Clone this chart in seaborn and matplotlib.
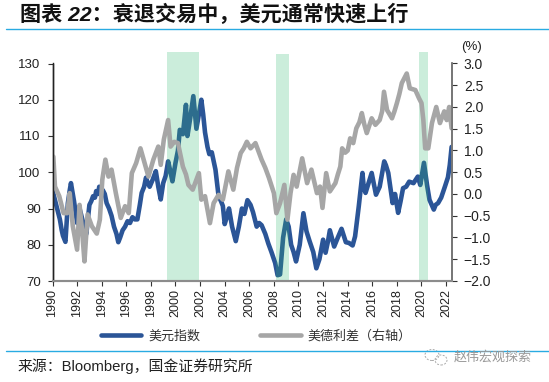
# 美元指数 vs 美德利差
import matplotlib
matplotlib.use('Agg')
import matplotlib.pyplot as plt
from matplotlib.patches import Ellipse
import pandas as pd
import seaborn as sns

# Dataset
dxy_years = [1990.0, 1990.15, 1990.3, 1990.45, 1990.6, 1990.75, 1990.85, 1991.05, 1991.15, 1991.25, 1991.4, 1991.5,
             1991.65, 1991.75, 1992.0, 1992.2, 1992.5, 1992.75, 1993.0, 1993.15, 1993.3, 1993.45, 1993.55, 1993.7,
             1993.8, 1994.1, 1994.25, 1994.4, 1994.6, 1994.8, 1995.0, 1995.2, 1995.35, 1995.5, 1995.7, 1995.9,
             1996.1, 1996.3, 1996.5, 1996.7, 1996.9, 1997.1, 1997.25, 1997.45, 1997.6, 1997.75, 1997.9, 1998.15,
             1998.4, 1998.6, 1998.8, 1999.0, 1999.2, 1999.4, 1999.6, 1999.75, 2000.0, 2000.2, 2000.35, 2000.6,
             2000.85, 2000.97, 2001.2, 2001.45, 2001.7, 2001.9, 2002.1, 2002.25, 2002.4, 2002.6, 2002.75, 2002.95,
             2003.25, 2003.5, 2003.7, 2003.85, 2004.0, 2004.2, 2004.35, 2004.6, 2004.9, 2005.15, 2005.4, 2005.6,
             2005.85, 2006.1, 2006.3, 2006.6, 2006.8, 2007.0, 2007.3, 2007.55, 2007.8, 2008.1, 2008.3, 2008.5,
             2008.75, 2009.0, 2009.2, 2009.4, 2009.6, 2009.8, 2010.1, 2010.4, 2010.65, 2010.9, 2011.2, 2011.45,
             2011.7, 2012.0, 2012.2, 2012.4, 2012.55, 2012.9, 2013.2, 2013.5, 2013.85, 2014.1, 2014.4, 2014.6,
             2014.9, 2015.2, 2015.3, 2015.45, 2015.7, 2015.95, 2016.3, 2016.6, 2016.97, 2017.1, 2017.3, 2017.65,
             2017.85, 2018.1, 2018.3, 2018.5, 2018.75, 2019.0, 2019.35, 2019.7, 2019.9, 2020.2, 2020.45, 2020.65,
             2021.0, 2021.15, 2021.35, 2021.6, 2021.9, 2022.15, 2022.3, 2022.45]
dxy_values = [95, 93, 91, 89, 87, 84, 82.5, 80.8, 86, 91.5, 95, 97,
              94, 92, 86, 90, 86, 83, 91, 92, 93.4, 93, 94.8, 94,
              96, 95, 94, 91.5, 90, 88, 85, 83, 80.7, 82, 84, 85,
              86.5, 86, 87.6, 87, 87, 91, 94.3, 96, 98.5, 97, 96, 98,
              100.3, 96, 92.5, 97, 99, 103, 100, 97.5, 102.6, 106, 111.7, 110.5,
              118.6, 110, 115, 121, 112, 116, 120, 116, 111, 107, 105, 105.5,
              100.7, 93.5, 92, 90.7, 85.7, 88, 90, 85, 81, 85, 90, 88.5,
              92.3, 91, 89, 85, 86, 85.4, 83, 80.3, 78, 75, 71.6, 71.8,
              82, 87, 85, 80, 78, 75.4, 80, 88.7, 83.7, 81, 78, 73.5,
              76, 81.4, 77.8, 81, 84, 79.5, 82, 84.4, 80.7, 80.5, 79.8, 82.3,
              90.6, 99.8, 96, 94.3, 97, 99.8, 93.8, 96, 103, 102, 99.8, 91.5,
              94, 88.8, 92, 95.6, 96, 97.4, 97, 98.8, 96.5, 102.6, 96.5, 92.4,
              89.7, 91, 91.5, 93, 96, 98.6, 102, 107]

spread_years = [1990.07, 1990.2, 1990.55, 1990.9, 1991.2, 1991.4, 1991.65, 1992.0, 1992.2, 1992.4, 1992.6, 1992.85,
                1993.2, 1993.6, 1993.85, 1994.05, 1994.3, 1994.55, 1994.8, 1995.15, 1995.55, 1995.9, 1996.2, 1996.45,
                1996.8, 1997.15, 1997.45, 1997.8, 1998.2, 1998.6, 1998.8, 1999.05, 1999.4, 1999.6, 1999.9, 2000.2,
                2000.6, 2000.85, 2001.05, 2001.4, 2001.9, 2002.1, 2002.4, 2002.8, 2003.1, 2003.5, 2003.85, 2004.3,
                2004.7, 2005.0, 2005.3, 2005.55, 2005.8, 2006.1, 2006.5, 2006.75, 2007.0, 2007.3, 2007.6, 2008.0,
                2008.2, 2008.5, 2008.85, 2009.1, 2009.35, 2009.6, 2009.85, 2010.3, 2010.7, 2011.05, 2011.5, 2011.75,
                2011.95, 2012.25, 2012.55, 2013.0, 2013.2, 2013.4, 2013.55, 2013.8, 2014.0, 2014.2, 2014.45, 2014.7,
                2014.95, 2015.15, 2015.35, 2015.55, 2015.95, 2016.25, 2016.6, 2016.8, 2016.95, 2017.2, 2017.6, 2017.8,
                2018.0, 2018.2, 2018.4, 2018.8, 2019.05, 2019.5, 2019.8, 2020.0, 2020.15, 2020.3, 2020.55, 2020.85,
                2021.2, 2021.5, 2021.85, 2022.05, 2022.25, 2022.45]
spread_values = [0.86, 0.17, -0.05, -0.44, -0.44, 0.02, -0.74, -1.28, -0.25, -0.82, -1.55, -0.47,
                 -0.74, -0.91, -0.59, 0.33, 0.79, 0.4, 0.56, 0.02, -0.55, -0.28, -0.44, 0.48,
                 0.71, 1.05, 0.75, 0.4, 0.79, 1.09, 0.67, 1.25, 1.7, 1.09, 1.2, 1.17,
                 0.63, 0.45, 0.21, 0.1, 0.48, -0.13, -0.05, -0.67, -0.21, -0.02, -0.13, 0.52,
                 0.1, 0.6, 0.94, 1.05, 1.2, 1.05, 1.17, 0.98, 0.79, 0.6, 0.37, 0.02,
                 -0.44, -0.21, 0.21, -0.59, 0.02, 0.44, 0.17, 0.82, 0.25, 0.56, 0.02, 0.17,
                 -0.32, 0.48, 0.06, 0.25, 0.45, 0.63, 1.05, 0.95, 1.0, 1.28, 1.17, 1.51,
                 1.65, 1.86, 1.6, 1.4, 1.74, 1.59, 1.7, 1.9, 2.35, 1.93, 1.74, 1.9,
                 2.09, 2.3, 2.55, 2.77, 2.43, 2.39, 2.2, 2.09, 1.7, 1.05, 1.05, 1.63,
                 2.0, 1.63, 1.9, 1.7, 2.0, 1.51]

bands = [(1999.33, 2001.93, 1.053), (2008.17, 2009.23, 1.044), (2019.8, 2020.53, 1.053)]
year_ticks = list(range(1990, 2023, 2))
left_ticks = [70, 80, 90, 100, 110, 120, 130]
right_ticks = [-2.0, -1.5, -1.0, -0.5, 0.0, 0.5, 1.0, 1.5, 2.0, 2.5, 3.0]

title = '图表 22：衰退交易中，美元通常快速上行'
source = '来源：Bloomberg，国金证券研究所'
watermark = '赵伟宏观探索'

sns.set_theme(style='white')
plt.rcParams['font.family'] = ['Liberation Sans', 'Noto Sans CJK SC']
plt.rcParams['axes.unicode_minus'] = True

W, H = 549, 382
fig = plt.figure(figsize=(W / 100, H / 100), dpi=100)
ax = fig.add_axes([52.5 / W, 1 - 281 / H, 399.5 / W, 217.5 / H])
ax2 = ax.twinx()

dxy = pd.DataFrame({'year': dxy_years, 'value': dxy_values})
spread = pd.DataFrame({'year': spread_years, 'value': spread_values})
sns.lineplot(data=dxy, x='year', y='value', ax=ax, color='#2b5597', lw=3.3, estimator=None, legend=False)
sns.lineplot(data=spread, x='year', y='value', ax=ax2, color='#a6a6a6', lw=3.3, estimator=None, legend=False)

ax.set_xlim(1990, 2022.48)
ax.set_ylim(70, 130)
ax2.set_ylim(-2, 3)
ax.set_xlabel('')
ax.set_ylabel('')
ax2.set_xlabel('')
ax2.set_ylabel('')

ax.set_xticks(year_ticks)
ax.set_xticklabels(year_ticks, rotation=90, fontsize=9, color='#222222')
ax.set_yticks(left_ticks)
ax.set_yticklabels(left_ticks, fontsize=9.5, color='#222222')
ax2.set_yticks(right_ticks)
ax2.set_yticklabels([f'{v:.1f}'.replace('-', '\u2212') for v in right_ticks], fontsize=10, color='#222222')

ax.tick_params(axis='x', length=3.5, width=0.8, color='#333333', pad=2, bottom=True)
ax.tick_params(axis='y', length=3.5, width=0.8, color='#333333', pad=5, left=True)
ax2.tick_params(axis='y', length=3.5, width=0.8, color='#333333', pad=5, right=True)

for a in (ax, ax2):
    a.spines['top'].set_visible(False)
    a.spines['bottom'].set_color('#8c8c8c')
    a.spines['bottom'].set_linewidth(1.5)
    a.spines['left'].set_color('#222222')
    a.spines['left'].set_linewidth(1.0)
    a.spines['right'].set_color('#777777')
    a.spines['right'].set_linewidth(1.3)
    a.grid(False)

# green recession bands sit over both lines
for start, end, top in bands:
    ax2.axvspan(start, end, ymin=0, ymax=top, facecolor=(0.2, 0.72, 0.44), alpha=0.25, lw=0, clip_on=False)

fig.text(472 / W, 1 - 47 / H, '(%)', fontsize=9.5, color='#222222', ha='center', va='center')

fig.text(20 / W, 1 - 14 / H, title, fontsize=15.2, fontweight='bold', color='#111111', va='center', style='italic')
fig.add_artist(plt.Line2D([6 / W, 1], [1 - 29 / H] * 2, color='#29abe2', lw=1.0))
fig.add_artist(plt.Line2D([6 / W, 1], [1 - 351 / H] * 2, color='#29abe2', lw=1.0))

fig.legend(handles=[ax.lines[0], ax2.lines[0]], labels=['美元指数', '美德利差（右轴）'],
           loc='center', bbox_to_anchor=(256 / W, 1 - 336 / H), ncols=2, frameon=False, fontsize=9.4,
           handlelength=3.1, handletextpad=0.5, columnspacing=4.6, labelcolor='#333333')

fig.text(18 / W, 1 - 366 / H, source, fontsize=10.7, color='#222222', va='center')

# wechat style watermark
for cx, cy, w, h in [(432, 355, 14, 11), (441, 360, 12, 10)]:
    fig.add_artist(Ellipse((cx / W, 1 - cy / H), w / W, h / H, transform=fig.transFigure,
                           fill=False, ec='#aaaaaa', lw=0.7, ls=(0, (2, 1.5))))
fig.text(454 / W, 1 - 357 / H, watermark, fontsize=9.4, color='#999999', va='center')

fig.savefig('out.png', dpi=100)
